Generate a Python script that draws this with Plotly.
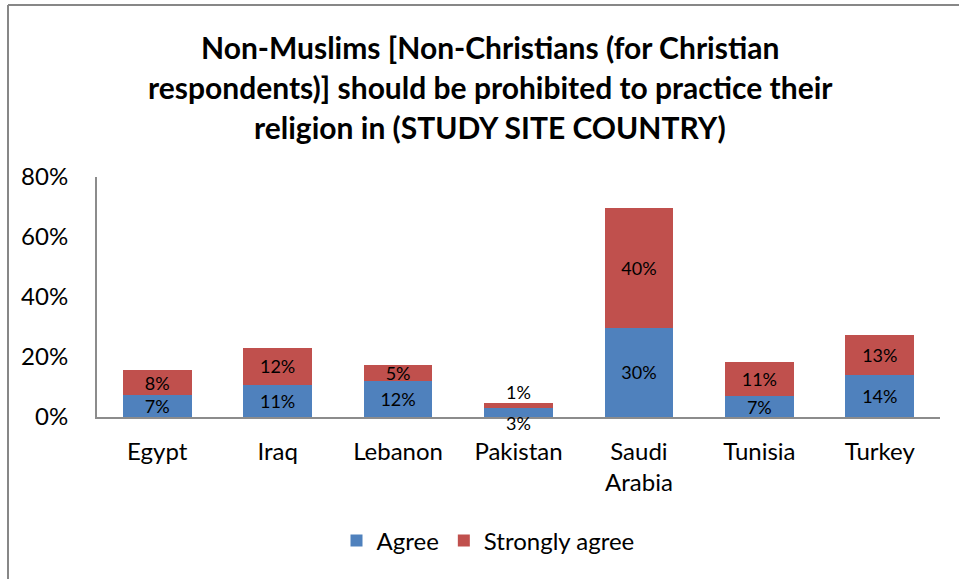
import plotly.graph_objects as go

categories = ["Egypt", "Iraq", "Lebanon", "Pakistan", "Saudi<br>Arabia", "Tunisia", "Turkey"]
agree = [7.3, 10.7, 12.0, 3.0, 29.7, 7.0, 14.0]
strongly_agree = [8.4, 12.4, 5.3, 1.6, 40.0, 11.4, 13.3]
agree_labels = ["7%", "11%", "12%", "3%", "30%", "7%", "14%"]
strongly_labels = ["8%", "12%", "5%", "1%", "40%", "11%", "13%"]
title_lines = [
    "Non-Muslims [Non-Christians (for Christian",
    "respondents)] should be prohibited to practice their",
    "religion in (STUDY SITE COUNTRY)",
]

FONT = "Lato"
BLUE = "#4F81BD"
RED = "#C0504D"
W, H = 959, 579

small = [a < 4 for a in agree]

fig = go.Figure()
fig.add_trace(go.Bar(
    x=categories, y=agree, name="Agree", marker_color=BLUE,
    text=[("" if s else t) for t, s in zip(agree_labels, small)],
    textposition="inside", insidetextanchor="middle",
    textfont=dict(family=FONT, size=18, color="black"),
    marker_line_width=0,
))
fig.add_trace(go.Bar(
    x=categories, y=strongly_agree, name="Strongly agree", marker_color=RED,
    text=[("" if s else t) for t, s in zip(strongly_labels, small)],
    textposition="inside", insidetextanchor="middle",
    textfont=dict(family=FONT, size=18, color="black"),
    marker_line_width=0,
))

plot_l, plot_r, plot_t, plot_b = 97, 940, 177, 417
pw, ph = plot_r - plot_l, plot_b - plot_t

annotations = []
for i, s in enumerate(small):
    if s:
        annotations.append(dict(x=categories[i], y=agree[i] / 2, xref="x", yref="y",
                                text=agree_labels[i], showarrow=False, yshift=-10,
                                font=dict(family=FONT, size=18, color="black")))
        annotations.append(dict(x=categories[i], y=agree[i] + strongly_agree[i], xref="x", yref="y",
                                text=strongly_labels[i], showarrow=False, yanchor="bottom", yshift=-2,
                                font=dict(family=FONT, size=18, color="black")))

title_y = [47, 87, 127]
for line, yy in zip(title_lines, title_y):
    annotations.append(dict(x=(490 - plot_l) / pw, y=(plot_b - yy) / ph, xref="paper", yref="paper",
                            text="<b>" + line + "</b>", showarrow=False, xanchor="center", yanchor="middle",
                            font=dict(family=FONT, size=30, color="black")))

fig.update_layout(
    barmode="stack",
    bargap=0.43,
    width=W, height=H,
    margin=dict(l=plot_l, r=W - plot_r, t=plot_t, b=H - plot_b, autoexpand=False),
    paper_bgcolor="white", plot_bgcolor="white",
    font=dict(family=FONT, size=24, color="black"),
    showlegend=True,
    legend=dict(orientation="h", x=(488 - plot_l) / pw, xanchor="center",
                y=-(541 - plot_b) / ph, yanchor="middle",
                font=dict(family=FONT, size=24), traceorder="normal",
                itemwidth=30),
    annotations=annotations,
    uniformtext=dict(minsize=18, mode="show"),
    shapes=[
        dict(type="line", xref="paper", yref="paper",
             x0=(8 - plot_l) / pw, x1=(8 - plot_l) / pw,
             y0=(plot_b - 5) / ph, y1=(plot_b - 590) / ph,
             line=dict(color="#878787", width=2)),
        dict(type="line", xref="paper", yref="paper",
             x0=(8 - plot_l) / pw, x1=(W - plot_l) / pw,
             y0=(plot_b - 5) / ph, y1=(plot_b - 5) / ph,
             line=dict(color="#878787", width=2)),
    ],
)
fig.update_xaxes(showline=True, linecolor="#8c8c8c", linewidth=2, showgrid=False,
                 ticks="", tickfont=dict(family=FONT, size=24), ticklabelstandoff=12)
fig.update_yaxes(range=[0, 80], dtick=20, ticksuffix="%", showline=True, linecolor="#8c8c8c",
                 linewidth=2, showgrid=False, zeroline=False, ticks="",
                 tickfont=dict(family=FONT, size=24), ticklabelstandoff=22)

fig.write_html("out.html", config={"displayModeBar": False},
               post_script="document.body.style.margin='0';document.body.style.overflow='hidden';")
